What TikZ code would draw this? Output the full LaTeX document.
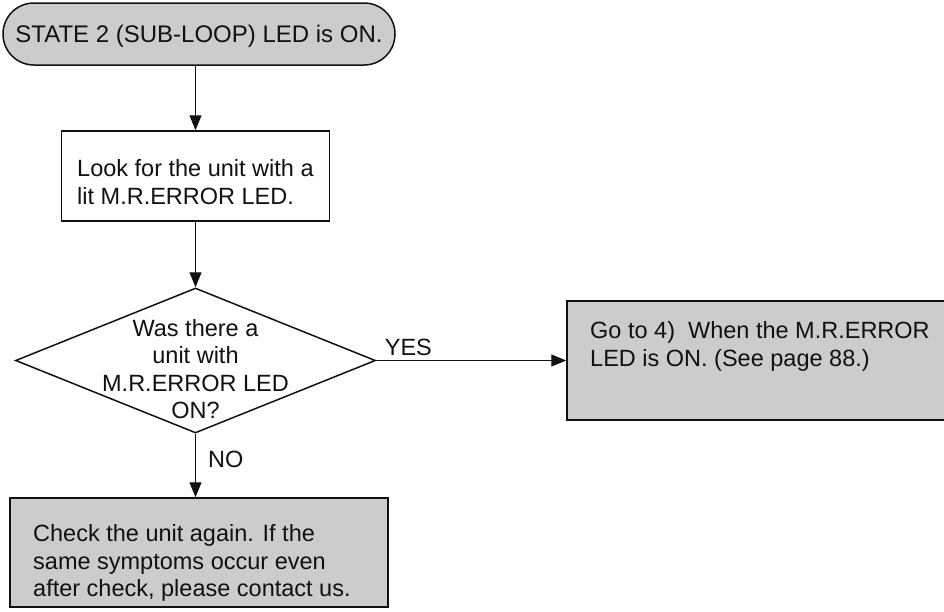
\documentclass[tikz,border=0pt]{standalone}
\usepackage{fontspec}
\setmainfont{Liberation Sans}
\usetikzlibrary{arrows.meta,shapes.geometric}
\definecolor{boxgray}{HTML}{CCCCCC}
\definecolor{ink}{HTML}{111111}
\begin{document}
\begin{tikzpicture}[x=1pt,y=-1pt,
  txt/.style={font=\fontsize{23.5}{27.5}\selectfont, text=ink, inner sep=0pt},
  shapeline/.style={draw=ink, line width=1.5pt},
  terminal/.style={shapeline, fill=boxgray, rounded corners=30.9pt,
    minimum width=392pt, minimum height=62pt, txt, font=\fontsize{24}{28}\selectfont,
    text height=17.6pt, text depth=0pt},
  plainbox/.style={shapeline, fill=white, rectangle, inner sep=0pt},
  graybox/.style={shapeline, fill=boxgray, rectangle, inner sep=0pt},
  decision/.style={shapeline, fill=white, diamond, inner sep=0pt,
    minimum width=360pt, minimum height=145pt},
  flow/.style={draw=ink, line width=1.2pt, -{Triangle[length=15pt,width=12pt]}}
]
\path[use as bounding box] (0,0) rectangle (944,611);

% shapes
\node[terminal] (start) at (199,34) {STATE 2 (SUB-LOOP) LED is ON.};
\node[plainbox, minimum width=268pt, minimum height=90pt] (look) at (195.5,176) {};
\node[decision] (ask) at (195.5,360.5) {};
\node[graybox, minimum width=400pt, minimum height=119pt] (goto) at (767,360.5) {};
\node[graybox, minimum width=378pt, minimum height=109pt] (check) at (199,552.5) {};

% texts
\node[txt, anchor=north west, align=left] (looktxt) at (77,159.4)
  {Look for the unit with a\\lit M.R.ERROR LED.};
\node[txt, anchor=north, align=center] (asktxt) at (195.5,318.9)
  {Was there a\\unit with\\M.R.ERROR LED\\ON?};
\node[txt, anchor=north west, align=left] (gototxt) at (590,321.4)
  {Go to 4)\ \ When the M.R.ERROR\\LED is ON. (See page 88.)};
\node[txt, anchor=north west, align=left] (checktxt) at (33,524.4)
  {Check the unit again. If the\\same symptoms occur even\\after check, please contact us.};

% connectors
\draw[flow] (look.north |- start.south) -- (look.north);
\draw[flow] (look.south) -- (ask.north);
\draw[flow] (ask.east) -- node[txt, anchor=south west, pos=0, xshift=8pt, yshift=4pt] (yes) {YES} (goto.west);
\draw[flow] (ask.south) -- node[txt, anchor=west, xshift=12pt, yshift=6.5pt] (no) {NO} (ask.south |- check.north);
\end{tikzpicture}
\end{document}
